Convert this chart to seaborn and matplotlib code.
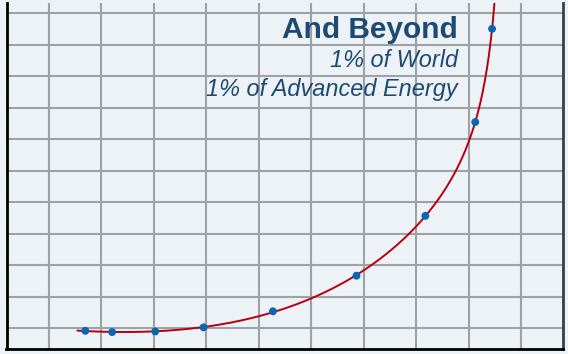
import numpy as np
import pandas as pd
import matplotlib
matplotlib.use("Agg")
import matplotlib.pyplot as plt
import seaborn as sns

# points (grid units, no tick labels in the original)
step_x = [1.70, 2.21, 3.03, 3.95, 5.27, 6.86, 8.17, 9.12, 9.44]
step_y = [0.91, 0.87, 0.89, 1.02, 1.53, 2.66, 4.56, 7.54, 10.50]
curve_start = 1.55

title = "And Beyond"
sub1 = "1% of World"
sub2 = "1% of Advanced Energy"

bg = "#edf2f7"
sns.set_theme(style="whitegrid", rc={"axes.facecolor": bg, "figure.facecolor": bg})
plt.rcParams["font.family"] = ["Liberation Sans", "DejaVu Sans"]

pts = pd.DataFrame({"x": step_x, "y": step_y})

# trend curve: y = a + b*x + c*exp(k*x) + e/(d - x), fitted to the points
xs = pts["x"].to_numpy()
ys = pts["y"].to_numpy()
best = None
for k in np.linspace(0.1, 1.5, 57):
    for d in np.linspace(9.46, 12, 128):
        A = np.column_stack([np.ones_like(xs), xs, np.exp(k * xs), 1 / (d - xs)])
        coef, *_ = np.linalg.lstsq(A, ys, rcond=None)
        err = np.sum((A @ coef - ys) ** 2)
        if best is None or err < best[0]:
            best = (err, k, d, coef)
_, k, d, coef = best
cx = np.linspace(curve_start, d - 1e-3, 600)
cy = coef[0] + coef[1] * cx + coef[2] * np.exp(k * cx) + coef[3] / (d - cx)
curve = pd.DataFrame({"x": cx, "y": cy})

fig = plt.figure(figsize=(5.68, 3.54), dpi=100)
ax = fig.add_axes([6.5 / 568, 5 / 354, (563 - 6.5) / 568, (351 - 5) / 354])

sns.lineplot(data=curve, x="x", y="y", ax=ax, color="#b50010", lw=1.4, sort=False, zorder=3)
sns.scatterplot(data=pts, x="x", y="y", ax=ax, color="#0a66b5", s=32, edgecolor="none", zorder=4)

ax.set_xlim(0.2, 10.79)
ax.set_ylim(0.333, 11.32)
ax.set_xticks(range(1, 11))
ax.set_yticks(range(1, 12))
ax.tick_params(length=0, labelbottom=False, labelleft=False)
ax.set_xlabel("")
ax.set_ylabel("")
ax.grid(True, color="#9ea2a6", lw=1.5)
for s in ["left", "bottom"]:
    ax.spines[s].set_color("black")
    ax.spines[s].set_linewidth(2)
ax.spines["right"].set_color("#3a3f44")
ax.spines["right"].set_linewidth(2)
ax.spines["top"].set_visible(False)

txt = "#1d4a72"
fig.text(458 / 568, 1 - 38 / 354, title, ha="right", va="baseline", fontsize=21.5, fontweight="bold", color=txt)
fig.text(458 / 568, 1 - 67 / 354, sub1, ha="right", va="baseline", fontsize=16.9, style="italic", color=txt)
fig.text(458 / 568, 1 - 96 / 354, sub2, ha="right", va="baseline", fontsize=16.9, style="italic", color=txt)

fig.savefig("out.png", dpi=100, facecolor=bg)
